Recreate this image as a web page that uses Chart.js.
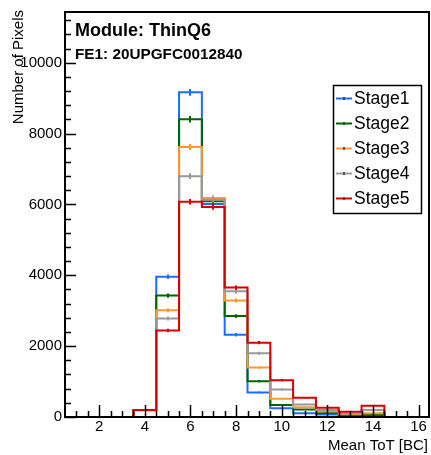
<!DOCTYPE html>
<html>
<head>
<meta charset="utf-8">
<script src="https://cdn.jsdelivr.net/npm/chart.js@4/dist/chart.umd.min.js"></script>
<style>
  html, body { margin: 0; padding: 0; background: #fff; }
  #wrap { width: 431px; height: 455px; position: relative; }
</style>
</head>
<body>
<div id="wrap"><canvas id="c" width="431" height="455"></canvas></div>
<script>
// ---- data ----
const binCenters = [1, 2, 3, 4, 5, 6, 7, 8, 9, 10, 11, 12, 13, 14, 15, 16];
const stage1 = [0, 0, 0, 190, 3960, 9166, 6010, 2323, 694, 244, 104, 70, 40, 28, 0, 0];
const stage2 = [0, 0, 0, 195, 3427, 8407, 6090, 2850, 1011, 337, 210, 112, 70, 56, 0, 0];
const stage3 = [0, 0, 0, 195, 3014, 7621, 6180, 3287, 1396, 514, 272, 155, 84, 104, 0, 0];
const stage4 = [0, 0, 0, 195, 2780, 6798, 6130, 3548, 1798, 778, 356, 197, 100, 197, 0, 0];
const stage5 = [0, 0, 0, 200, 2444, 6076, 5930, 3652, 2098, 1039, 543, 262, 150, 318, 0, 0];
const seriesNames = ['Stage1', 'Stage2', 'Stage3', 'Stage4', 'Stage5'];
const xTickValues = [2, 4, 6, 8, 10, 12, 14, 16];
const yTickValues = [0, 2000, 4000, 6000, 8000, 10000];
const titleText = 'Module: ThinQ6';
const subtitleText = 'FE1: 20UPGFC0012840';
const xTitle = 'Mean ToT [BC]';
const yTitle = 'Number of Pixels';

// ---- styling ----
const colors = ['#1a6dff', '#006400', '#ff9933', '#999999', '#d40000'];
const FONT = "'Liberation Sans', Arial, Helvetica, sans-serif";
const X_MIN = 0.5, X_MAX = 16.5, Y_MAX = 11432;

const allSeries = [stage1, stage2, stage3, stage4, stage5];

function histPoints(vals) {
  const pts = [];
  vals.forEach((v, i) => {
    const c = binCenters[i];
    pts.push({x: c - 0.5, y: v}, {x: c + 0.5, y: v});
  });
  return pts;
}

const datasets = allSeries.map((vals, i) => ({
  label: seriesNames[i],
  data: histPoints(vals),
  borderColor: colors[i],
  backgroundColor: colors[i],
  borderWidth: 2,
  pointRadius: 0,
  tension: 0,
  fill: false,
  order: 5 - i,
  borderJoinStyle: 'miter',
  borderCapStyle: 'butt'
}));

const rootPlugin = {
  id: 'rootStyle',
  afterDatasetsDraw(chart) {
    const ctx = chart.ctx;
    const xs = chart.scales.x, ys = chart.scales.y;
    ctx.save();
    allSeries.forEach((vals, si) => {
      ctx.strokeStyle = colors[si];
      ctx.lineWidth = 2;
      vals.forEach((v, i) => {
        if (v <= 0) return;
        const e = Math.sqrt(v);
        const px = Math.round(xs.getPixelForValue(binCenters[i]));
        ctx.beginPath();
        ctx.moveTo(px, ys.getPixelForValue(v - e));
        ctx.lineTo(px, ys.getPixelForValue(v + e));
        ctx.stroke();
      });
    });
    ctx.restore();
  },
  afterDraw(chart) {
    const ctx = chart.ctx;
    const xs = chart.scales.x, ys = chart.scales.y;
    const ca = chart.chartArea;
    ctx.save();
    // frame
    ctx.strokeStyle = '#000';
    ctx.lineWidth = 2;
    ctx.strokeRect(ca.left, ca.top, ca.right - ca.left - 1, ca.bottom - ca.top);
    // y ticks (inside)
    ctx.lineWidth = 1.5;
    ctx.beginPath();
    for (let v = 0; v <= Y_MAX; v += 400) {
      const py = Math.round(ys.getPixelForValue(v)) + 0.5;
      const major = yTickValues.includes(v);
      ctx.moveTo(ca.left, py);
      ctx.lineTo(ca.left + (major ? 11 : 6), py);
    }
    // x ticks (inside)
    for (let v = 1; v <= 16; v += 0.5) {
      const px = Math.round(xs.getPixelForValue(v)) + 0.5;
      const major = xTickValues.includes(v);
      ctx.moveTo(px, ca.bottom);
      ctx.lineTo(px, ca.bottom - (major ? 12 : 6));
    }
    ctx.stroke();

    // titles
    ctx.fillStyle = '#000';
    ctx.textAlign = 'left';
    ctx.textBaseline = 'alphabetic';
    ctx.font = 'bold 18px ' + FONT;
    ctx.fillText(titleText, 75, 35.5);
    ctx.font = 'bold 15.3px ' + FONT;
    ctx.fillText(subtitleText, 75, 59);

    // axis titles
    ctx.font = '15px ' + FONT;
    ctx.textAlign = 'right';
    ctx.fillText(xTitle, 428, 450);
    ctx.save();
    ctx.translate(23, 10);
    ctx.rotate(-Math.PI / 2);
    ctx.textAlign = 'right';
    ctx.fillText(yTitle, 0, 0);
    ctx.restore();

    // legend
    const lx = 333, ly = 85, lw = 88, lh = 128;
    ctx.fillStyle = '#fff';
    ctx.fillRect(lx, ly, lw, lh);
    ctx.strokeStyle = '#000';
    ctx.lineWidth = 1.5;
    ctx.strokeRect(lx + 0.5, ly + 0.5, lw, lh);
    ctx.font = '17.5px ' + FONT;
    ctx.textAlign = 'left';
    ctx.textBaseline = 'middle';
    seriesNames.forEach((name, i) => {
      const cy = 98.5 + i * 25;
      ctx.strokeStyle = colors[i];
      ctx.lineWidth = 2;
      ctx.beginPath();
      ctx.moveTo(336, cy);
      ctx.lineTo(352, cy);
      ctx.stroke();
      ctx.lineWidth = 1.5;
      ctx.beginPath();
      ctx.moveTo(344, cy - 1.5);
      ctx.lineTo(344, cy + 1.5);
      ctx.strokeStyle = '#333';
      ctx.stroke();
      ctx.fillStyle = '#000';
      ctx.fillText(name, 354, cy + 1);
    });
    ctx.restore();
  }
};

new Chart(document.getElementById('c'), {
  type: 'line',
  data: { datasets },
  options: {
    responsive: false,
    animation: false,
    events: [],
    layout: { padding: { top: 10, right: 1, left: 0, bottom: 0 } },
    plugins: { legend: { display: false }, tooltip: { enabled: false } },
    scales: {
      x: {
        type: 'linear',
        min: X_MIN, max: X_MAX,
        grid: { display: false, drawTicks: false },
        border: { display: false },
        afterBuildTicks: (s) => { s.ticks = xTickValues.map(v => ({value: v})); },
        afterFit: (s) => { s.height = 38; },
        ticks: {
          autoSkip: false, maxRotation: 0, padding: 1,
          color: '#000',
          font: { family: FONT, size: 15 },
          callback: (v) => String(v)
        }
      },
      y: {
        type: 'linear',
        min: 0, max: Y_MAX,
        grid: { display: false, drawTicks: false },
        border: { display: false },
        afterBuildTicks: (s) => { s.ticks = yTickValues.map(v => ({value: v})); },
        afterFit: (s) => { s.width = 65; },
        ticks: {
          autoSkip: false, padding: 3,
          color: '#000',
          font: { family: FONT, size: 15 },
          callback: (v) => String(v)
        }
      }
    }
  },
  plugins: [rootPlugin]
});
</script>
</body>
</html>
